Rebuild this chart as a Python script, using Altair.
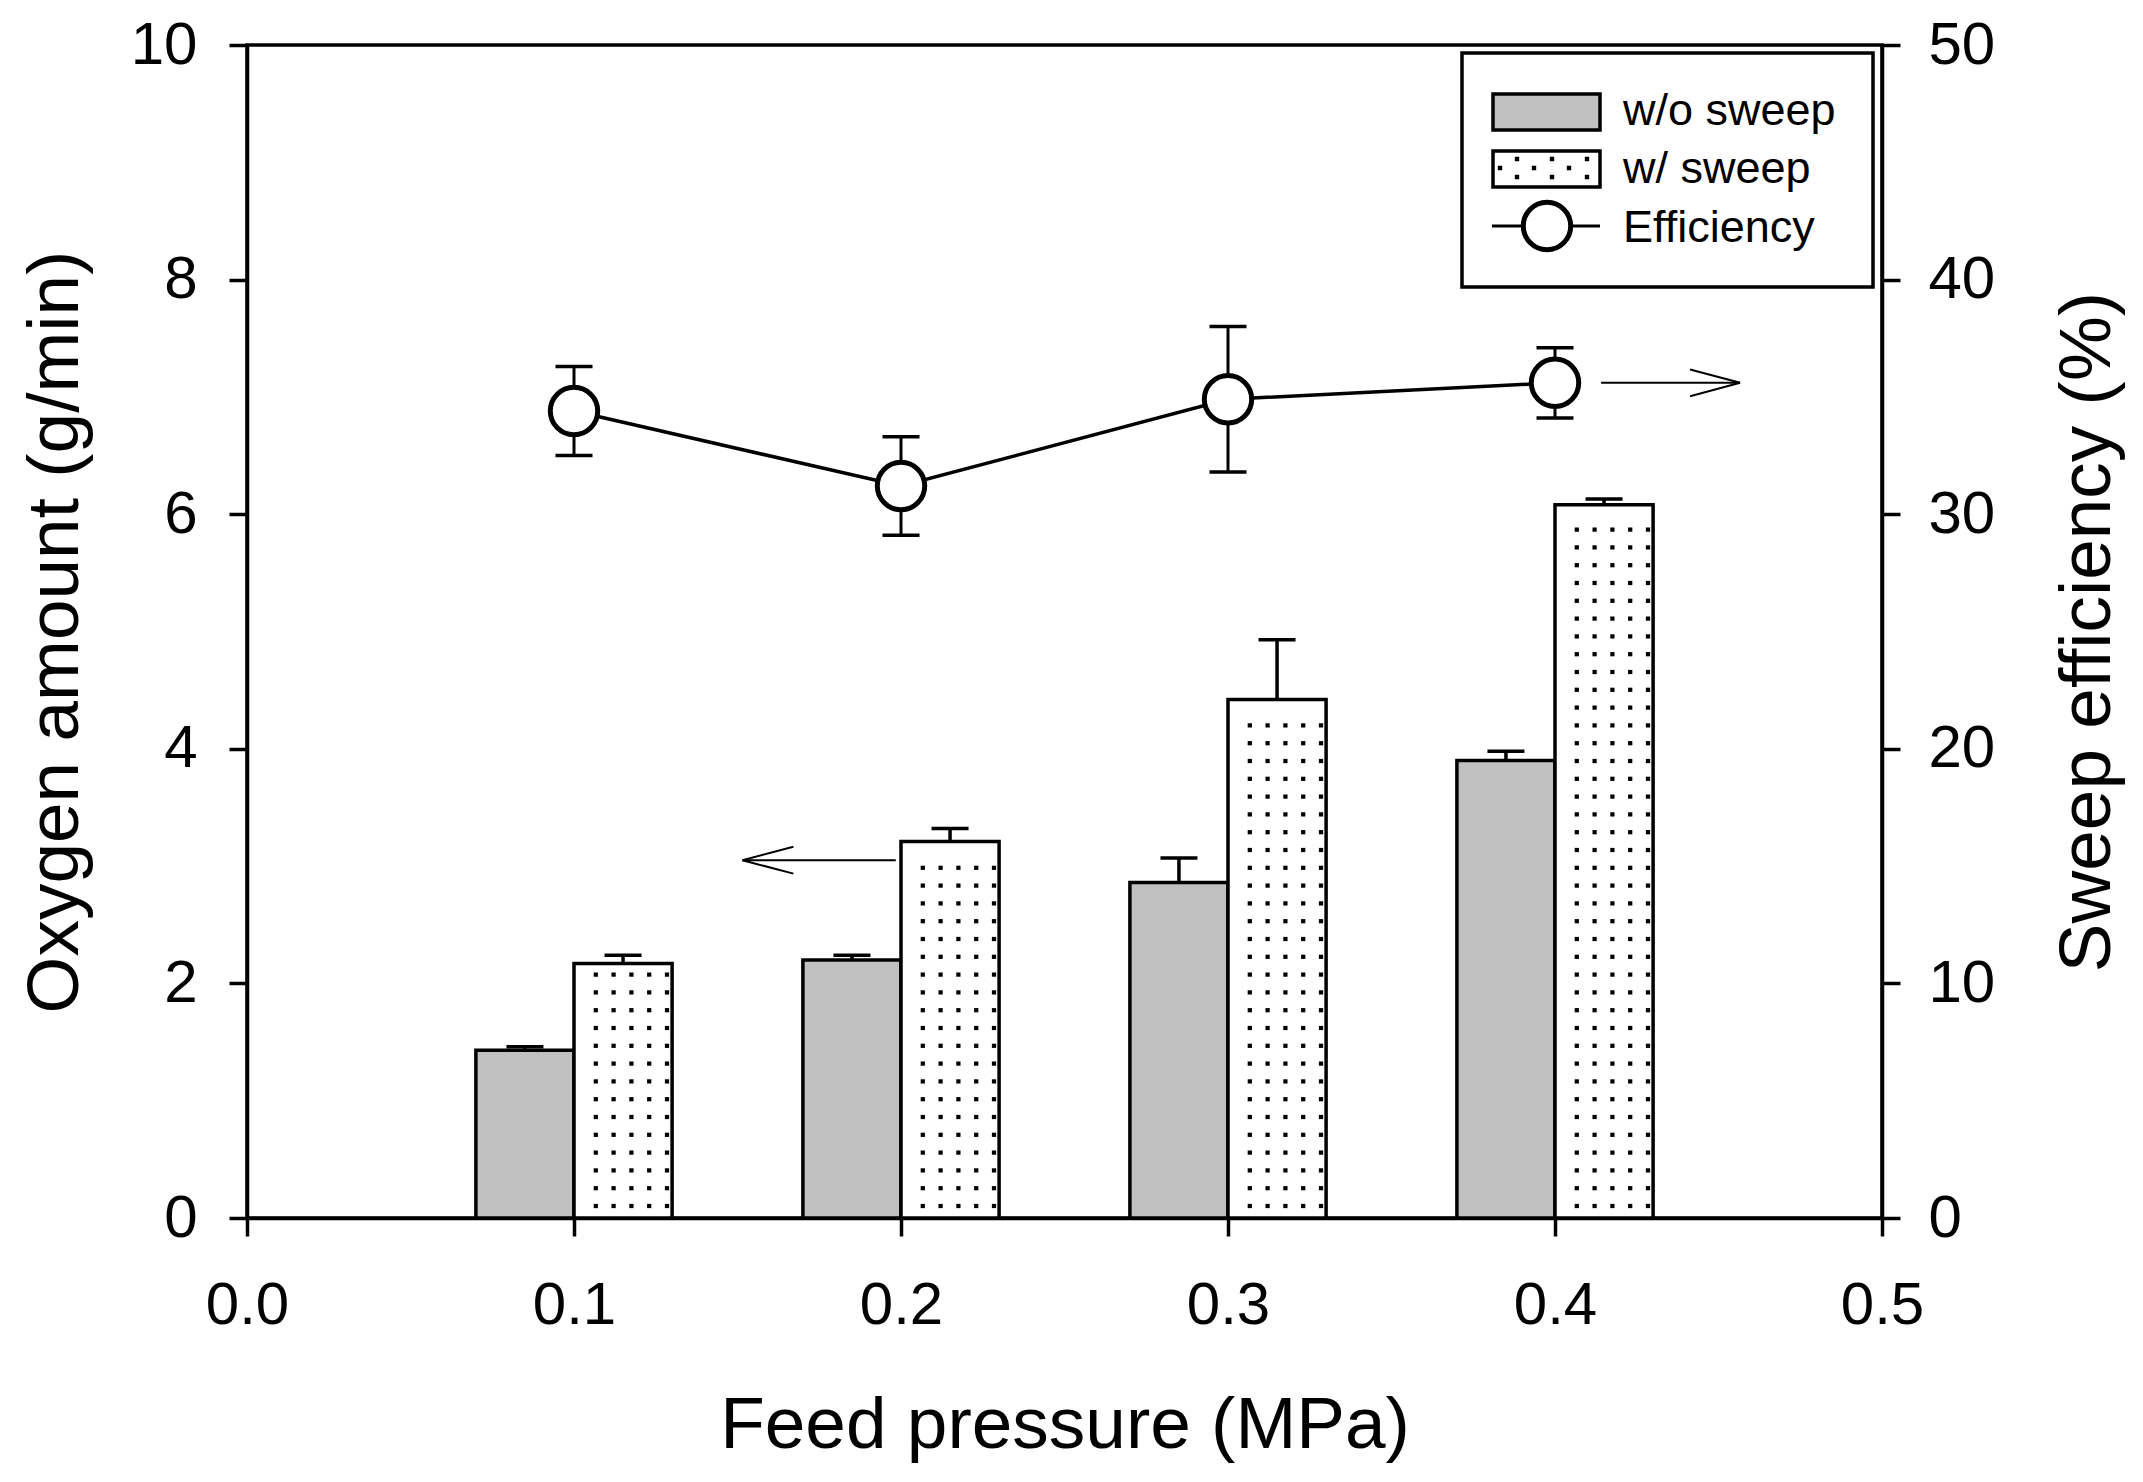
import altair as alt
import pandas as pd

# ---------------- data ----------------
pressure = [0.1, 0.2, 0.3, 0.4]
wo_sweep = [1.43, 2.20, 2.86, 3.90]
wo_sweep_err = [0.03, 0.04, 0.21, 0.08]
w_sweep = [2.17, 3.21, 4.42, 6.08]
w_sweep_err = [0.07, 0.11, 0.51, 0.05]
efficiency = [34.4, 31.2, 34.9, 35.6]
efficiency_err = [1.9, 2.1, 3.1, 1.5]
series_names = ["w/o sweep", "w/ sweep", "Efficiency"]
x_ticks = [0.0, 0.1, 0.2, 0.3, 0.4, 0.5]
left_ticks = [0, 2, 4, 6, 8, 10]
right_ticks = [0, 10, 20, 30, 40, 50]
arrow_left = {"tail": 0.1984, "tip": 0.1515, "y": 3.05}
arrow_right = {"tail": 0.4141, "tip": 0.4566, "y": 35.6}

# ---------------- style ----------------
FONT = "Liberation Sans"
W, H = 1635, 1173
BAR_W = 0.03
PX_X = 0.5 / W
PX_Y = 10.0 / H
DOT_STEP = 17.8
GRAY = "#c0c0c0"
LW = 3.5

xscale = alt.Scale(domain=[0, 0.5], nice=False, zero=False)
ylscale = alt.Scale(domain=[0, 10], nice=False)
yrscale = alt.Scale(domain=[0, 50], nice=False)

xaxis = alt.Axis(values=x_ticks, format=".1f", title="Feed pressure (MPa)",
                 tickSize=18, tickWidth=LW, domainWidth=LW, labelFontSize=60,
                 titleFontSize=73, labelPadding=40, titlePadding=54,
                 labelFlush=False, labelOverlap=False)
ylaxis = alt.Axis(values=left_ticks, format="d", title="Oxygen amount (g/min)",
                  orient="left", tickSize=18, tickWidth=LW, domainWidth=LW,
                  labelFontSize=60, titleFontSize=73, labelPadding=32,
                  titlePadding=38, titleAngle=270, titleBaseline="bottom",
                  labelFlush=False, labelOverlap=False)
yraxis = alt.Axis(values=right_ticks, format="d", title="Sweep efficiency (%)",
                  orient="right", tickSize=18, tickWidth=LW, domainWidth=LW,
                  labelFontSize=60, titleFontSize=73, labelPadding=28,
                  titlePadding=57, titleAngle=270, titleBaseline="top",
                  labelFlush=False, labelOverlap=False)

# ---------------- tables ----------------
bar_rows = []
for p, v, e in zip(pressure, wo_sweep, wo_sweep_err):
    bar_rows.append({"x": p - BAR_W, "x2": p, "y": v, "top": v + e, "series": series_names[0]})
for p, v, e in zip(pressure, w_sweep, w_sweep_err):
    bar_rows.append({"x": p, "x2": p + BAR_W, "y": v, "top": v + e, "series": series_names[1]})
bars_df = pd.DataFrame(bar_rows)
bars_df["xc"] = (bars_df["x"] + bars_df["x2"]) / 2
bars_df["base"] = 0.0

dot_rows = []
for p, v in zip(pressure, w_sweep):
    k = 0
    while True:
        yy = (12 + k * DOT_STEP) * PX_Y
        if yy > v - 10 * PX_Y:
            break
        for j in range(5):
            dot_rows.append({"x": p + (21.8 + DOT_STEP * j) * PX_X, "y": yy})
        k += 1
dots_df = pd.DataFrame(dot_rows)

eff_df = pd.DataFrame({
    "x": pressure,
    "y": efficiency,
    "lo": [a - b for a, b in zip(efficiency, efficiency_err)],
    "hi": [a + b for a, b in zip(efficiency, efficiency_err)],
})

X = lambda f: alt.X(f, scale=xscale, axis=xaxis)
YL = lambda f: alt.Y(f, scale=ylscale, axis=ylaxis)
YR = lambda f: alt.Y(f, scale=yrscale, axis=yraxis)

CAP = "M-1,0L1,0"

# ---------------- left (oxygen amount) ----------------
bars = alt.Chart(bars_df).mark_bar(stroke="black", strokeWidth=LW).encode(
    x=X("x:Q"), x2="x2:Q", y=YL("y:Q"), y2="base:Q",
    fill=alt.Fill("series:N", scale=alt.Scale(domain=series_names[:2], range=[GRAY, "white"]), legend=None),
)
dots = alt.Chart(dots_df).mark_square(size=18, color="black", opacity=1).encode(
    x=X("x:Q"), y=YL("y:Q"))
bar_err = alt.Chart(bars_df).mark_rule(color="black", strokeWidth=LW).encode(
    x=X("xc:Q"), y=YL("y:Q"), y2="top:Q")
bar_cap = alt.Chart(bars_df).mark_point(shape=CAP, size=1369, filled=False, stroke="black",
                                        strokeWidth=LW, opacity=1).encode(x=X("xc:Q"), y=YL("top:Q"))
al_df = pd.DataFrame([arrow_left])
al_shaft = alt.Chart(al_df).mark_rule(color="black", strokeWidth=2).encode(
    x=X("tail:Q"), x2="tip:Q", y=YL("y:Q"))
al_head = alt.Chart(al_df).mark_point(shape="M0,0L51,-13.4M0,0L51,13.4", size=4, filled=False,
                                      stroke="black", strokeWidth=2, opacity=1).encode(
    x=X("tip:Q"), y=YL("y:Q"))
left = alt.layer(bars, dots, bar_err, bar_cap, al_shaft, al_head)

# ---------------- right (efficiency) ----------------
eff_line = alt.Chart(eff_df).mark_line(color="black", strokeWidth=3.5).encode(
    x=X("x:Q"), y=YR("y:Q"))
eff_err = alt.Chart(eff_df).mark_rule(color="black", strokeWidth=3).encode(
    x=X("x:Q"), y=YR("lo:Q"), y2="hi:Q")
eff_cap_lo = alt.Chart(eff_df).mark_point(shape=CAP, size=1369, filled=False, stroke="black",
                                          strokeWidth=LW, opacity=1).encode(x=X("x:Q"), y=YR("lo:Q"))
eff_cap_hi = alt.Chart(eff_df).mark_point(shape=CAP, size=1369, filled=False, stroke="black",
                                          strokeWidth=LW, opacity=1).encode(x=X("x:Q"), y=YR("hi:Q"))
eff_pts = alt.Chart(eff_df).mark_point(shape="circle", size=2248, filled=True, fill="white",
                                       stroke="black", strokeWidth=5, opacity=1).encode(
    x=X("x:Q"), y=YR("y:Q"))
ar_df = pd.DataFrame([arrow_right])
ar_shaft = alt.Chart(ar_df).mark_rule(color="black", strokeWidth=2).encode(
    x=X("tail:Q"), x2="tip:Q", y=YR("y:Q"))
ar_head = alt.Chart(ar_df).mark_point(shape="M0,0L-50,-13.4M0,0L-50,13.4", size=4, filled=False,
                                      stroke="black", strokeWidth=2, opacity=1).encode(
    x=X("tip:Q"), y=YR("y:Q"))
right = alt.layer(eff_line, eff_err, eff_cap_lo, eff_cap_hi, eff_pts, ar_shaft, ar_head)

# ---------------- legend ----------------
one = pd.DataFrame({"k": [0]})
leg_box = alt.Chart(one).mark_rect(fill="white", stroke="black", strokeWidth=LW).encode(
    x=alt.value(1215), x2=alt.value(1626), y=alt.value(8), y2=alt.value(242))
leg_gray = alt.Chart(one).mark_rect(fill=GRAY, stroke="black", strokeWidth=LW).encode(
    x=alt.value(1246), x2=alt.value(1353), y=alt.value(49), y2=alt.value(85))
leg_dot_box = alt.Chart(one).mark_rect(fill="white", stroke="black", strokeWidth=LW).encode(
    x=alt.value(1246), x2=alt.value(1353), y=alt.value(106), y2=alt.value(142))
dot_offsets = [(-29.5, -10), (5.5, -10), (40.5, -10), (-46.5, -1), (-12.5, -1), (22.5, -1),
               (-29.5, 8), (5.5, 8), (40.5, 8)]
dot_path = "".join(f"M{dx-2.2},{dy-2.2}h4.4v4.4h-4.4z" for dx, dy in dot_offsets)
leg_dots = alt.Chart(one).mark_point(shape=dot_path, size=4, filled=True, fill="black",
                                     strokeWidth=0, opacity=1).encode(
    x=alt.value(1299.5), y=alt.value(124))
leg_line = alt.Chart(one).mark_rule(color="black", strokeWidth=3).encode(
    x=alt.value(1245), x2=alt.value(1353), y=alt.value(181))
leg_circle = alt.Chart(one).mark_point(shape="circle", size=2248, filled=True, fill="white",
                                       stroke="black", strokeWidth=5, opacity=1).encode(
    x=alt.value(1300), y=alt.value(181))
leg_texts = []
for name, by in zip(series_names, [80, 138, 197]):
    leg_texts.append(
        alt.Chart(pd.DataFrame({"label": [name]})).mark_text(
            font=FONT, fontSize=45, align="left", baseline="alphabetic", color="black").encode(
            x=alt.value(1376), y=alt.value(by), text="label:N"))
legend = alt.layer(leg_box, leg_gray, leg_dot_box, leg_dots, leg_line, leg_circle, *leg_texts)

chart = alt.layer(left, right, legend).resolve_scale(y="independent").properties(
    width=W, height=H,
    padding={"left": 239, "top": 37, "right": 253, "bottom": 256},
    autosize=alt.AutoSizeParams(type="none"),
    background="white",
).configure_view(stroke="black", strokeWidth=LW).configure_axis(
    labelFont=FONT, titleFont=FONT, labelColor="black", titleColor="black",
    domainColor="black", tickColor="black", titleFontWeight="normal", grid=False,
)

chart.save("out.html", embed_options={"renderer": "svg", "actions": False})
